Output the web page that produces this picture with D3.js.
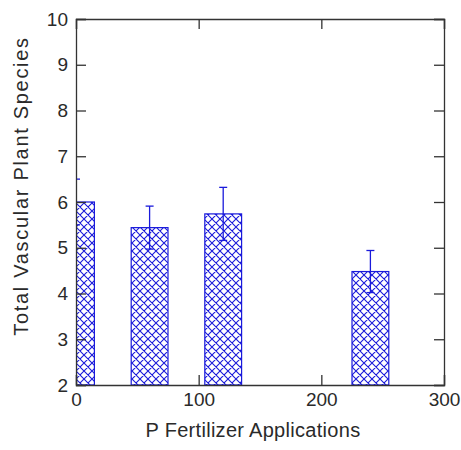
<!DOCTYPE html>
<html>
<head>
<meta charset="utf-8">
<script src="https://cdn.jsdelivr.net/npm/d3@7"></script>
<style>
  body { margin: 0; background: #fff; }
  svg { display: block; font-family: "Liberation Sans", Arial, sans-serif; }
</style>
</head>
<body>
<div class="chart"></div>
<script>
// data
var applications = [0, 60, 120, 240];
var species = [6.0, 5.44, 5.74, 4.48];
var errors = [0.5, 0.47, 0.58, 0.46];
var xTicks = [0, 100, 200, 300];
var yTicks = [2, 3, 4, 5, 6, 7, 8, 9, 10];

var svgWidth = 461;
var svgHeight = 450;
var margin = { top: 19, right: 17, bottom: 65, left: 76 };
var width = svgWidth - margin.left - margin.right;
var height = svgHeight - margin.top - margin.bottom;
var barWidth = 30; // in x units
var blue = "#1a1adb";
var axisColor = "#333";
var textColor = "#2a2a2a";

var svg = d3.select(".chart").append("svg")
  .attr("width", svgWidth)
  .attr("height", svgHeight);

// crosshatch pattern
var defs = svg.append("defs");
var pat = defs.append("pattern")
  .attr("id", "hatch")
  .attr("patternUnits", "userSpaceOnUse")
  .attr("width", 8)
  .attr("height", 8);
pat.append("rect").attr("width", 8).attr("height", 8).attr("fill", "#fff");
pat.append("path")
  .attr("d", "M0,0L8,8M8,0L0,8M-1,7L1,9M7,-1L9,1M-1,1L1,-1M7,9L9,7")
  .attr("stroke", blue)
  .attr("stroke-width", 1.1)
  .attr("fill", "none");

defs.append("clipPath").attr("id", "clip")
  .append("rect").attr("width", width).attr("height", height);

var chartGroup = svg.append("g")
  .attr("transform", `translate(${margin.left}, ${margin.top})`);

var xScale = d3.scaleLinear().domain([0, 300]).range([0, width]);
var yScale = d3.scaleLinear().domain([2, 10]).range([height, 0]);

var plot = chartGroup.append("g").attr("clip-path", "url(#clip)");

// bars
plot.selectAll("rect.bar")
  .data(applications)
  .enter()
  .append("rect")
  .attr("class", "bar")
  .attr("x", (d) => xScale(d - barWidth / 2))
  .attr("y", (d, i) => yScale(species[i]))
  .attr("width", (d) => xScale(d + barWidth / 2) - xScale(d - barWidth / 2))
  .attr("height", (d, i) => height - yScale(species[i]))
  .attr("fill", "url(#hatch)")
  .attr("stroke", blue)
  .attr("stroke-width", 1.2);

// error bars
var capHalf = 4;
var err = plot.selectAll("g.err")
  .data(applications)
  .enter()
  .append("g")
  .attr("class", "err")
  .attr("stroke", blue)
  .attr("stroke-width", 1.3);
err.append("line")
  .attr("x1", (d) => xScale(d)).attr("x2", (d) => xScale(d))
  .attr("y1", (d, i) => yScale(species[i] + errors[i]))
  .attr("y2", (d, i) => yScale(species[i] - errors[i]));
err.append("line")
  .attr("x1", (d) => xScale(d) - capHalf).attr("x2", (d) => xScale(d) + capHalf)
  .attr("y1", (d, i) => yScale(species[i] + errors[i]))
  .attr("y2", (d, i) => yScale(species[i] + errors[i]));
err.append("line")
  .attr("x1", (d) => xScale(d) - capHalf).attr("x2", (d) => xScale(d) + capHalf)
  .attr("y1", (d, i) => yScale(species[i] - errors[i]))
  .attr("y2", (d, i) => yScale(species[i] - errors[i]));

// axes, ticks inside on all four sides
var tickLen = 10;
var leftAxis = d3.axisLeft(yScale).tickValues(yTicks).tickSize(-tickLen).tickPadding(8);
var bottomAxis = d3.axisBottom(xScale).tickValues(xTicks).tickSize(-tickLen).tickPadding(8);
var rightAxis = d3.axisRight(yScale).tickValues(yTicks).tickSize(-tickLen).tickFormat("");
var topAxis = d3.axisTop(xScale).tickValues(xTicks).tickSize(-tickLen).tickFormat("");

var gl = chartGroup.append("g").call(leftAxis);
var gb = chartGroup.append("g").attr("transform", `translate(0,${height})`).call(bottomAxis);
var gr = chartGroup.append("g").attr("transform", `translate(${width},0)`).call(rightAxis);
var gt = chartGroup.append("g").call(topAxis);

[gl, gb, gr, gt].forEach(function (g) {
  g.select(".domain").attr("stroke", axisColor).attr("stroke-width", 1.3);
  g.selectAll(".tick line").attr("stroke", axisColor).attr("stroke-width", 1.3);
  g.selectAll(".tick text")
    .attr("fill", textColor)
    .style("font-size", "19px")
    .style("font-family", "'Liberation Sans', Arial, sans-serif");
});

// axis labels
svg.append("text")
  .attr("transform", "translate(28, 186) rotate(-90)")
  .attr("text-anchor", "middle")
  .attr("fill", textColor)
  .style("font-size", "20px")
  .style("letter-spacing", "1.7px")
  .text("Total Vascular Plant Species");

svg.append("text")
  .attr("x", 253)
  .attr("y", 437)
  .attr("text-anchor", "middle")
  .attr("fill", textColor)
  .style("font-size", "20px")
  .style("letter-spacing", "0.3px")
  .text("P Fertilizer Applications");
</script>
</body>
</html>
